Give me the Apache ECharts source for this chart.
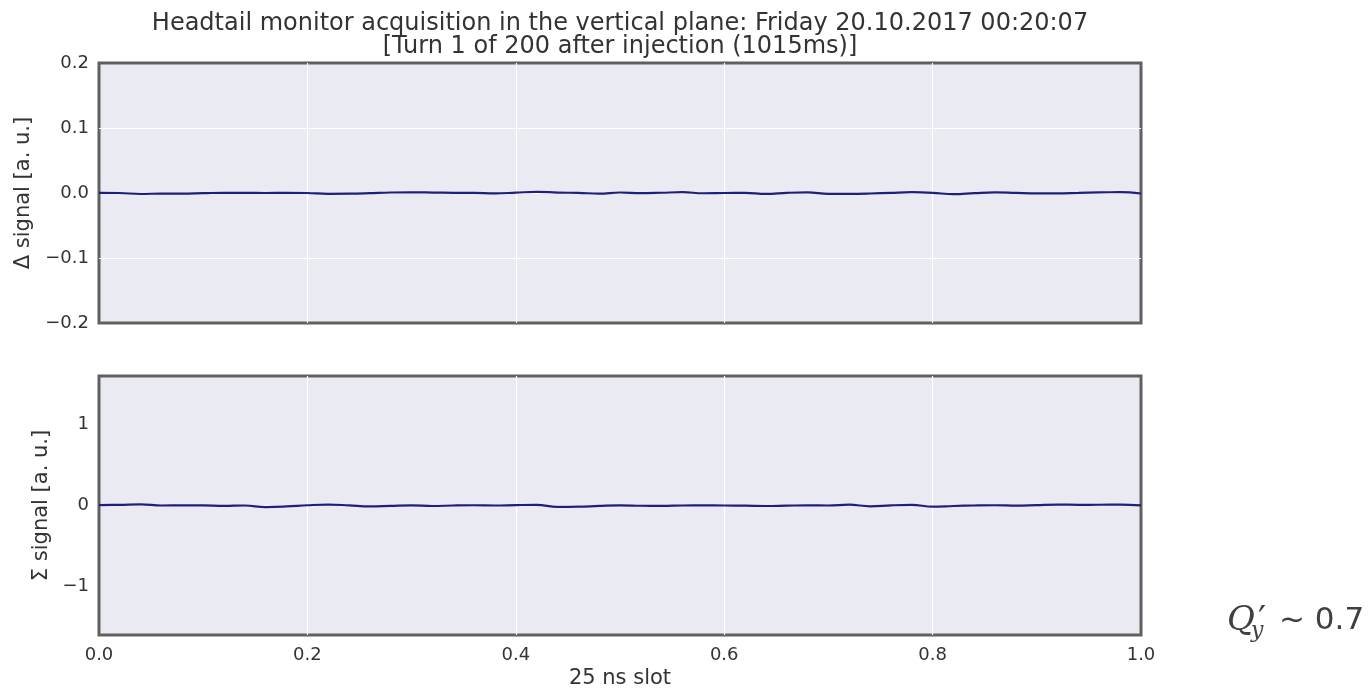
<!DOCTYPE html>
<html>
<head>
<meta charset="utf-8">
<script src="https://cdn.jsdelivr.net/npm/echarts@6/dist/echarts.min.js"></script>
<style>
  html, body { margin: 0; padding: 0; background: #ffffff; }
  #chart { width: 1370px; height: 691px; }
</style>
</head>
<body>
<div id="chart"></div>
<script>
// Slot positions (fraction of the 25 ns bucket)
const slotPos = [0.00,0.02,0.04,0.06,0.08,0.10,0.12,0.14,0.16,0.18,0.20,0.22,0.24,0.26,0.28,0.30,0.32,0.34,0.36,0.38,0.40,0.42,0.44,0.46,0.48,0.50,0.52,0.54,0.56,0.58,0.60,0.62,0.64,0.66,0.68,0.70,0.72,0.74,0.76,0.78,0.80,0.82,0.84,0.86,0.88,0.90,0.92,0.94,0.96,0.98,1.00];

// Delta (difference) signal, a. u.
const deltaSignal = [0.0003,0.0000,-0.0015,-0.0008,-0.0010,-0.0003,0.0004,0.0002,0.0000,0.0003,0.0000,-0.0012,-0.0010,-0.0002,0.0008,0.0010,0.0007,0.0003,0.0002,-0.0006,0.0005,0.0018,0.0006,0.0002,-0.0010,0.0008,-0.0002,0.0004,0.0012,-0.0004,0.0000,0.0002,-0.0014,0.0002,0.0010,-0.0012,-0.0013,-0.0008,0.0002,0.0012,0.0003,-0.0018,-0.0003,0.0009,0.0001,-0.0006,-0.0005,0.0003,0.0010,0.0012,-0.0008];

// Sigma (sum) signal, a. u.
const sigmaSignal = [0.005,0.008,0.015,0.000,0.002,0.001,-0.005,0.000,-0.020,-0.012,0.003,0.012,0.002,-0.010,-0.004,0.002,-0.006,0.000,0.003,0.000,0.005,0.008,-0.018,-0.015,-0.005,0.002,-0.003,-0.005,0.000,0.002,0.000,-0.002,-0.006,-0.002,0.002,0.000,0.010,-0.010,0.002,0.008,-0.015,-0.006,0.000,0.003,-0.002,0.005,0.012,0.008,0.009,0.010,0.002];

// Tick values
const xTicks = [0.0, 0.2, 0.4, 0.6, 0.8, 1.0];
const deltaTicks = [-0.2, -0.1, 0.0, 0.1, 0.2];
const sigmaTicks = [-1, 0, 1];

const titleLines = [
  'Headtail monitor acquisition in the vertical plane: Friday 20.10.2017 00:20:07',
  '[Turn 1 of 200 after injection (1015ms)]'
];

const FONT = 'DejaVu Sans';
const TXT = '#333333';
const LINE = '#1f1f7a';
const minus = s => String(s).replace('-', '\u2212');

const chart = echarts.init(document.getElementById('chart'), null, { renderer: 'canvas' });

const gridBase = {
  left: 99, width: 1042, show: true,
  backgroundColor: '#EAEAF2', borderColor: '#606060', borderWidth: 3
};

// white grid lines inside the frame only (frame edges stay solid grey)
const whiteSplit = {
  show: true, showMinLine: false, showMaxLine: false,
  lineStyle: { color: '#ffffff', width: 1.2 }
};

const xAxisBase = {
  type: 'value', min: 0, max: 1, interval: 0.2,
  axisLine: { show: false }, axisTick: { show: false },
  splitLine: whiteSplit
};

const option = {
  animation: false,
  backgroundColor: '#ffffff',
  textStyle: { fontFamily: FONT },
  grid: [
    Object.assign({ top: 63, height: 260 }, gridBase),
    Object.assign({ top: 376, height: 259 }, gridBase)
  ],
  xAxis: [
    Object.assign({ gridIndex: 0, axisLabel: { show: false } }, xAxisBase),
    Object.assign({
      gridIndex: 1,
      name: '25 ns slot', nameLocation: 'middle', nameGap: 33,
      nameTextStyle: { fontSize: 21, color: TXT, fontFamily: FONT },
      axisLabel: {
        show: true, fontSize: 18, color: TXT, fontFamily: FONT, margin: 11,
        customValues: xTicks,
        formatter: v => v.toFixed(1)
      }
    }, xAxisBase)
  ],
  yAxis: [
    {
      gridIndex: 0, type: 'value', min: -0.2, max: 0.2, interval: 0.1,
      name: '\u0394 signal [a. u.]', nameLocation: 'middle', nameGap: 65, nameRotate: 90,
      nameTextStyle: { fontSize: 21, color: TXT, fontFamily: FONT },
      axisLine: { show: false }, axisTick: { show: false },
      axisLabel: {
        fontSize: 18, color: TXT, fontFamily: FONT, margin: 10,
        customValues: deltaTicks,
        formatter: v => minus(v.toFixed(1))
      },
      splitLine: whiteSplit
    },
    {
      gridIndex: 1, type: 'value', min: -1.6, max: 1.6,
      name: '\u03A3 signal [a. u.]', nameLocation: 'middle', nameGap: 46, nameRotate: 90,
      nameTextStyle: { fontSize: 21, color: TXT, fontFamily: FONT },
      axisLine: { show: false },
      axisTick: { show: false, customValues: sigmaTicks },
      axisLabel: {
        fontSize: 18, color: TXT, fontFamily: FONT, margin: 10,
        customValues: sigmaTicks,
        formatter: v => minus(Math.round(v))
      },
      splitLine: whiteSplit
    }
  ],
  series: [
    {
      type: 'line', xAxisIndex: 0, yAxisIndex: 0,
      data: slotPos.map((x, i) => [x, deltaSignal[i]]),
      showSymbol: false, smooth: 0.4,
      lineStyle: { color: LINE, width: 2.2 }
    },
    {
      type: 'line', xAxisIndex: 1, yAxisIndex: 1,
      data: slotPos.map((x, i) => [x, sigmaSignal[i]]),
      showSymbol: false, smooth: 0.4,
      lineStyle: { color: LINE, width: 2.2 }
    }
  ],
  graphic: [
    {
      type: 'text', x: 620, y: 24,
      style: { text: titleLines[0], fontSize: 24, fontFamily: FONT, fill: TXT, align: 'center', verticalAlign: 'middle' }
    },
    {
      type: 'text', x: 620, y: 47,
      style: { text: titleLines[1], fontSize: 24, fontFamily: FONT, fill: TXT, align: 'center', verticalAlign: 'middle' }
    },
    // Chromaticity annotation Q'_y ~ 0.7
    {
      type: 'text', x: 1227, y: 621,
      style: { text: 'Q', fontSize: 34, fontStyle: 'italic', fontFamily: 'DejaVu Serif', fill: '#404040', verticalAlign: 'middle' }
    },
    {
      type: 'text', x: 1258, y: 622,
      style: { text: '\u2032', fontSize: 36, fontFamily: 'DejaVu Sans', fill: '#404040', verticalAlign: 'middle' }
    },
    {
      type: 'text', x: 1251, y: 631,
      style: { text: 'y', fontSize: 22, fontStyle: 'italic', fontFamily: 'DejaVu Serif', fill: '#404040', verticalAlign: 'middle' }
    },
    {
      type: 'text', x: 1279, y: 621,
      style: { text: '~ 0.7', fontSize: 31, fontFamily: FONT, fill: '#404040', verticalAlign: 'middle' }
    }
  ]
};

chart.setOption(option);
</script>
</body>
</html>
